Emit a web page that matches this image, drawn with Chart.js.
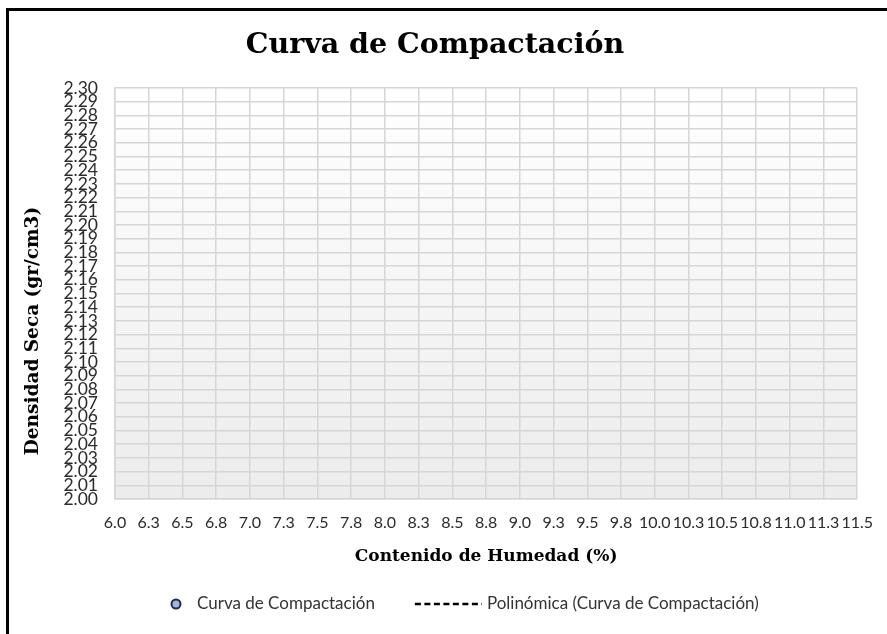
<!DOCTYPE html>
<html>
<head>
<meta charset="utf-8">
<title>Curva de Compactación</title>
<script src="https://cdn.jsdelivr.net/npm/chart.js@4"></script>
<style>
    body { margin: 0; background: #fff; }
    #wrap { position: relative; width: 887px; height: 634px; overflow: hidden; }
    #frame {
        position: absolute; left: 6px; top: 8px; width: 900px; height: 700px;
        border-top: 3px solid #000; border-left: 3px solid #000; pointer-events: none;
    }
</style>
</head>
<body>
<div id="wrap">
    <canvas id="compactionChart" width="887" height="634"></canvas>
    <div id="frame"></div>
</div>
<script>
// --- data (no test points are plotted in the source sheet) ---
const humedad = [];        // Contenido de Humedad (%)
const densidad = [];       // Densidad Seca (gr/cm3)
const polinomica = [];     // trendline points

const xTicks = [6.0, 6.25, 6.5, 6.75, 7.0, 7.25, 7.5, 7.75, 8.0, 8.25, 8.5, 8.75,
    9.0, 9.25, 9.5, 9.75, 10.0, 10.25, 10.5, 10.75, 11.0, 11.25, 11.5];
const xTickLabels = ['6.0', '6.3', '6.5', '6.8', '7.0', '7.3', '7.5', '7.8', '8.0', '8.3', '8.5', '8.8',
    '9.0', '9.3', '9.5', '9.8', '10.0', '10.3', '10.5', '10.8', '11.0', '11.3', '11.5'];
const yTicks = [2.00, 2.01, 2.02, 2.03, 2.04, 2.05, 2.06, 2.07, 2.08, 2.09, 2.10,
    2.11, 2.12, 2.13, 2.14, 2.15, 2.16, 2.17, 2.18, 2.19, 2.20,
    2.21, 2.22, 2.23, 2.24, 2.25, 2.26, 2.27, 2.28, 2.29, 2.30];
const yTickLabels = ['2.00', '2.01', '2.02', '2.03', '2.04', '2.05', '2.06', '2.07', '2.08', '2.09', '2.10',
    '2.11', '2.12', '2.13', '2.14', '2.15', '2.16', '2.17', '2.18', '2.19', '2.20',
    '2.21', '2.22', '2.23', '2.24', '2.25', '2.26', '2.27', '2.28', '2.29', '2.30'];

const TITLE_FONT = '"DejaVu Serif", serif';
const LABEL_FONT = 'Lato, "Open Sans", sans-serif';
const GRID = '#d6d6d6';

// light gradient behind the plot area
const plotBackground = {
    id: 'plotBackground',
    beforeDraw(chart) {
        const { ctx, chartArea: a } = chart;
        const g = ctx.createLinearGradient(0, a.top, 0, a.bottom);
        g.addColorStop(0, '#ffffff');
        g.addColorStop(1, '#ececec');
        ctx.save();
        ctx.fillStyle = g;
        ctx.fillRect(a.left, a.top, a.right - a.left, a.bottom - a.top);
        ctx.restore();
    }
};

// y title sits a bit below the plot centre, like the Excel original
const yTitle = {
    id: 'yTitle',
    afterDraw(chart) {
        const ctx = chart.ctx;
        ctx.save();
        ctx.translate(33, 331);
        ctx.rotate(-Math.PI / 2);
        ctx.font = 'bold 18.5px ' + TITLE_FONT;
        ctx.fillStyle = '#000';
        ctx.textAlign = 'center';
        ctx.textBaseline = 'middle';
        ctx.fillText('Densidad Seca (gr/cm3)', 0, 0);
        ctx.restore();
    }
};

// bottom legend: circle marker + dashed trendline key
const bottomLegend = {
    id: 'bottomLegend',
    afterDraw(chart) {
        const ctx = chart.ctx;
        const ds = chart.data.datasets;
        const y = 604;
        let x = 176;
        ctx.save();
        ctx.font = '17px ' + LABEL_FONT;
        ctx.textBaseline = 'middle';

        // item 1
        ctx.beginPath();
        ctx.arc(x, y, 4.5, 0, Math.PI * 2);
        ctx.fillStyle = ds[0].backgroundColor;
        ctx.fill();
        ctx.lineWidth = 2;
        ctx.strokeStyle = ds[0].borderColor;
        ctx.stroke();
        x = 197;
        ctx.fillStyle = '#333';
        ctx.fillText(ds[0].label, x, y);
        x += ctx.measureText(ds[0].label).width + 40;

        // item 2
        ctx.beginPath();
        ctx.setLineDash(ds[1].borderDash);
        ctx.lineWidth = 2.5;
        ctx.strokeStyle = ds[1].borderColor;
        ctx.moveTo(x, y);
        ctx.lineTo(x + 67, y);
        ctx.stroke();
        ctx.setLineDash([]);
        ctx.fillText(ds[1].label, x + 72, y);
        ctx.restore();
    }
};

new Chart(document.getElementById('compactionChart'), {
    type: 'scatter',
    data: {
        datasets: [{
            label: 'Curva de Compactación',
            data: humedad.map((h, i) => ({ x: h, y: densidad[i] })),
            pointStyle: 'circle',
            pointRadius: 5,
            backgroundColor: '#a3b4dc',
            borderColor: '#1f2d4d',
            borderWidth: 2
        }, {
            type: 'line',
            label: 'Polinómica (Curva de Compactación)',
            data: polinomica,
            borderColor: '#000000',
            borderDash: [6, 3.5],
            borderWidth: 2,
            pointRadius: 0,
            fill: false
        }]
    },
    options: {
        responsive: false,
        animation: false,
        layout: { padding: { top: 0, left: 10, right: 27, bottom: 55 } },
        plugins: {
            legend: { display: false },
            tooltip: { enabled: false },
            title: {
                display: true,
                text: 'Curva de Compactación',
                color: '#000',
                font: { family: TITLE_FONT, size: 28.5, weight: 'bold', lineHeight: 1.2 },
                padding: { top: 28, bottom: 25.8 }
            }
        },
        scales: {
            x: {
                type: 'linear',
                min: 6,
                max: 11.5,
                afterBuildTicks: s => { s.ticks = xTicks.map(v => ({ value: v })); },
                afterFit: s => { s.height = 80; },
                grid: { color: GRID, lineWidth: 1.5, drawTicks: false },
                border: { color: GRID, width: 1.5 },
                ticks: {
                    autoSkip: false, maxRotation: 0, minRotation: 0, padding: 14,
                    color: '#2b2b2b', font: { family: LABEL_FONT, size: 16 },
                    callback: (v, i) => xTickLabels[i]
                },
                title: {
                    display: true,
                    text: 'Contenido de Humedad (%)',
                    color: '#000',
                    font: { family: TITLE_FONT, size: 17, weight: 'bold' },
                    padding: { top: 0, bottom: 12 }
                }
            },
            y: {
                min: 2.0,
                max: 2.3,
                afterBuildTicks: s => { s.ticks = yTicks.map(v => ({ value: v })); },
                afterFit: s => { s.width = 105; },
                grid: { color: GRID, lineWidth: 1.5, drawTicks: false },
                border: { color: GRID, width: 1.5 },
                ticks: {
                    autoSkip: false, padding: 17,
                    color: '#2b2b2b', font: { family: LABEL_FONT, size: 17.5 },
                    callback: (v, i) => yTickLabels[i]
                }
            }
        }
    },
    plugins: [plotBackground, yTitle, bottomLegend]
});
</script>
</body>
</html>
